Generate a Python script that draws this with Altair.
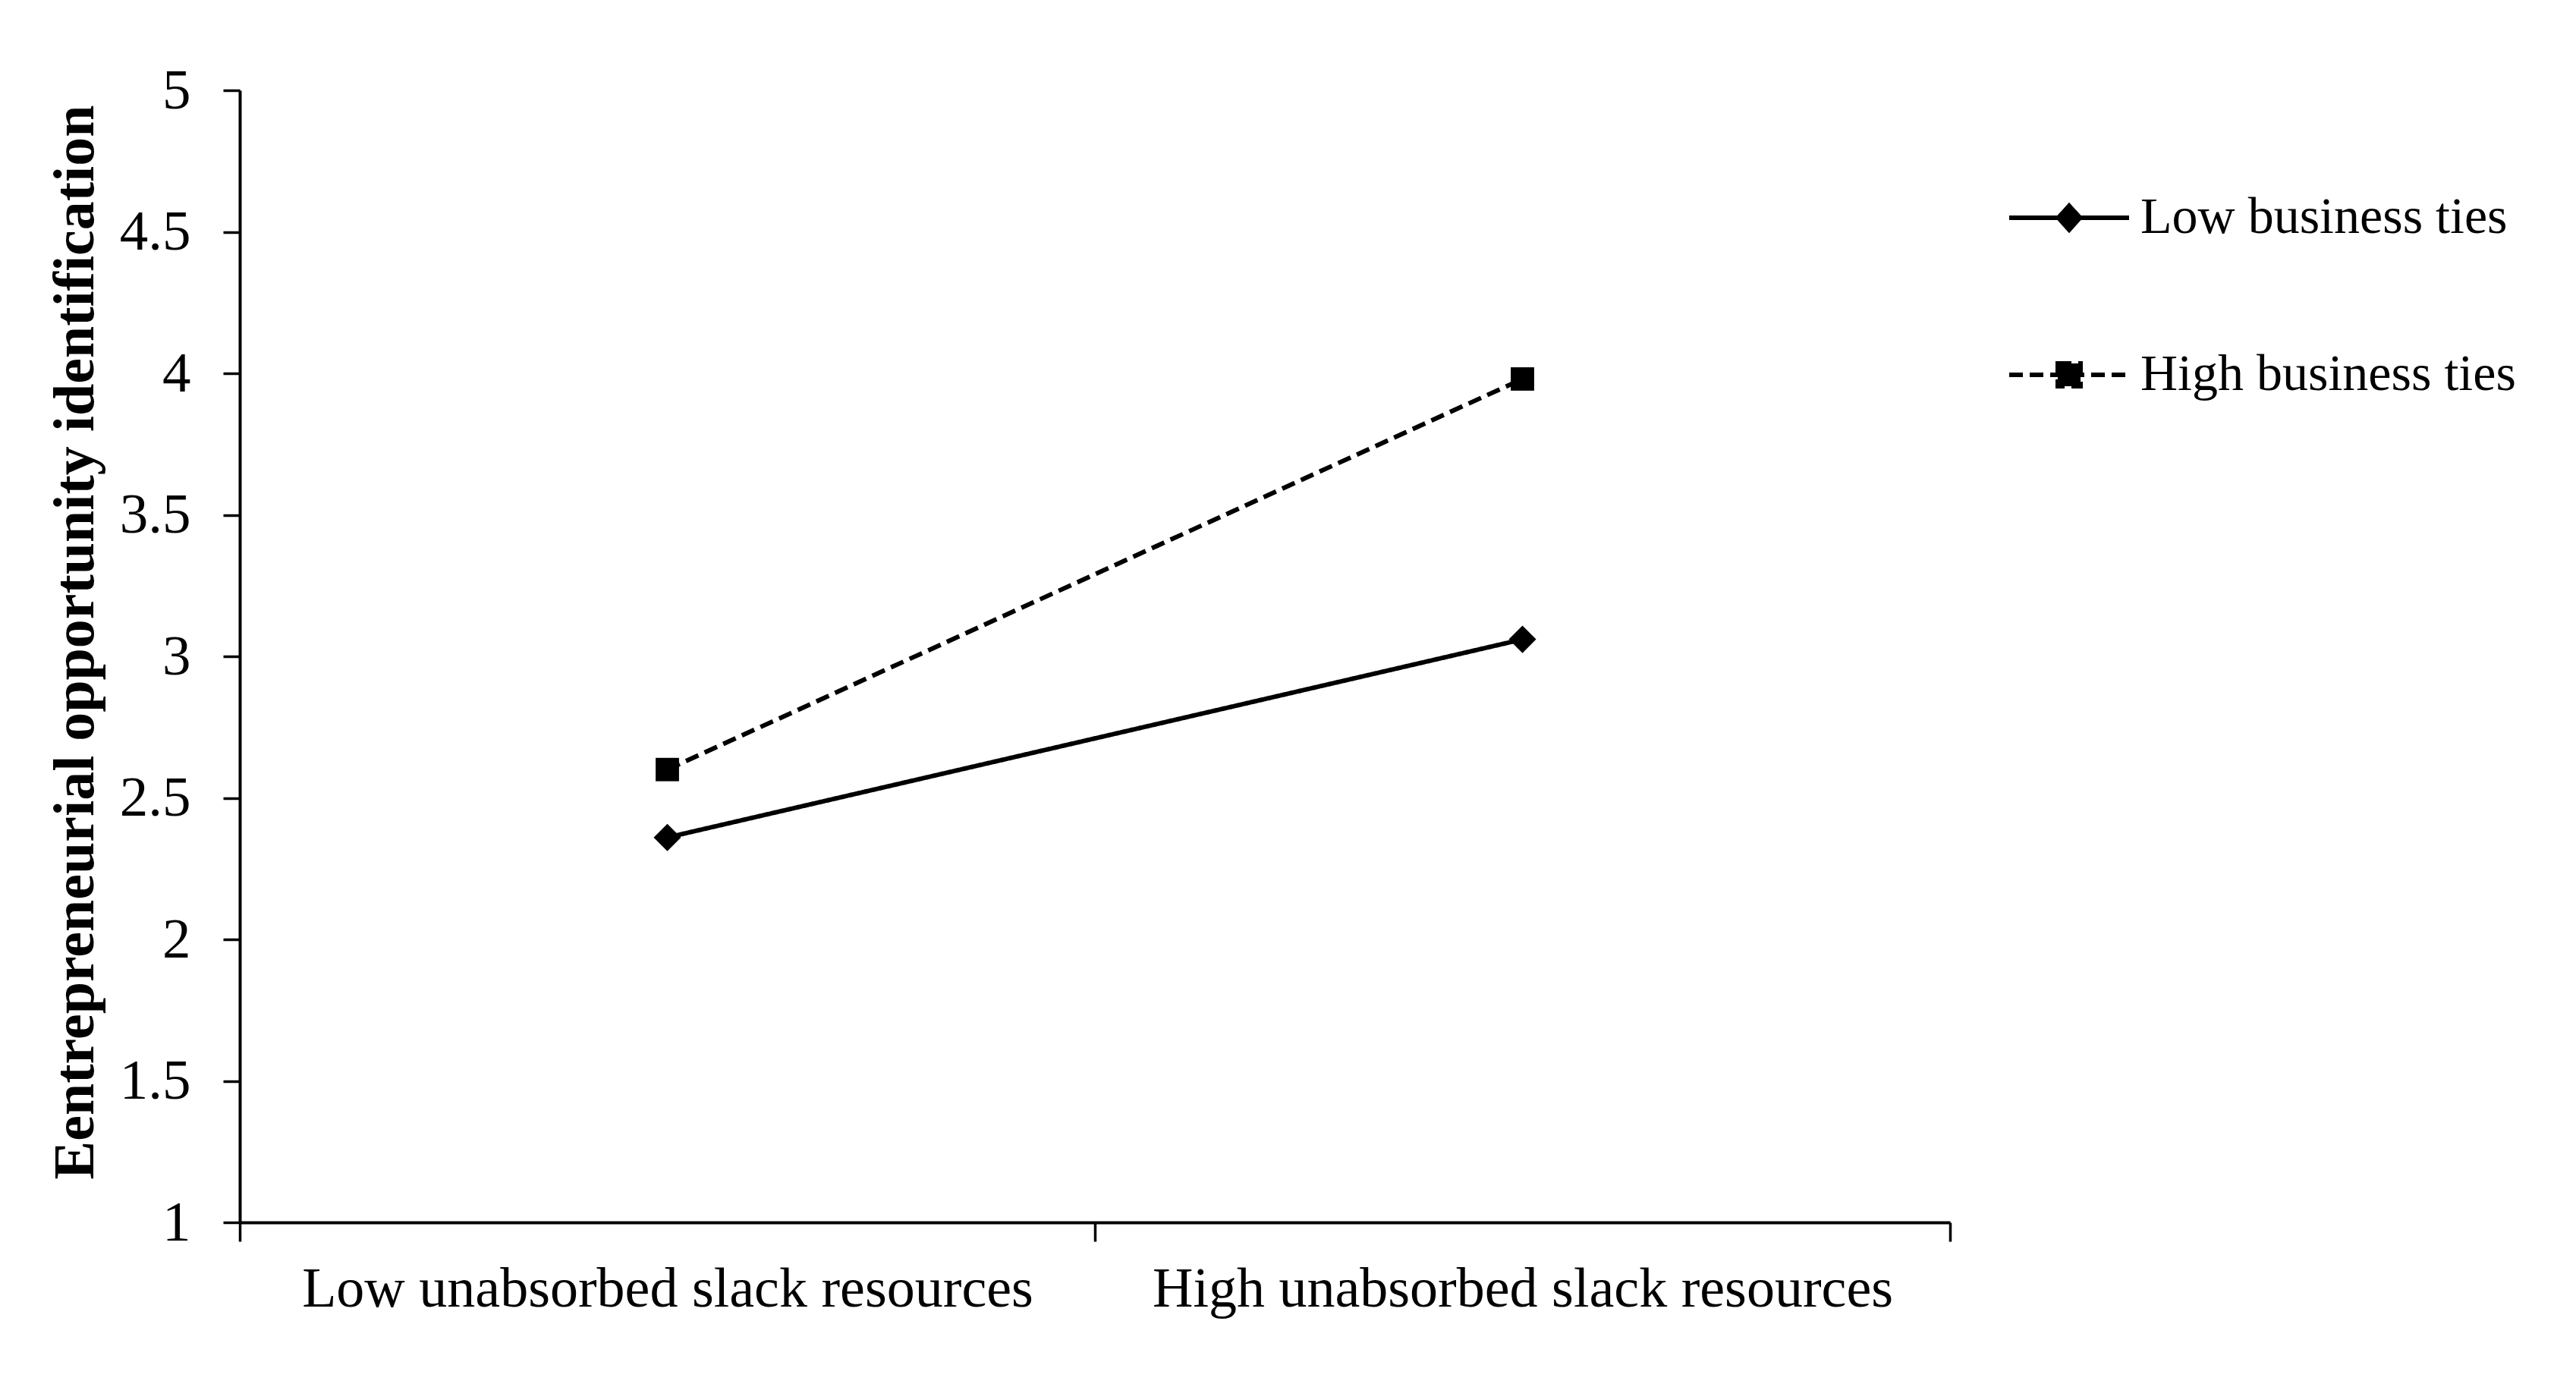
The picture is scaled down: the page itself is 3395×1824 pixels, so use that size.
import altair as alt
import pandas as pd

categories = ["Low unabsorbed slack resources", "High unabsorbed slack resources"]
series = ["Low business ties", "High business ties"]
low_ties = [2.36, 3.06]
high_ties = [2.60, 3.98]
y_ticks = [1, 1.5, 2, 2.5, 3, 3.5, 4, 4.5, 5]

rows = []
for s, vals in zip(series, [low_ties, high_ties]):
    for c, v in zip(categories, vals):
        rows.append({"slack": c, "ties": s, "value": v})
df = pd.DataFrame(rows)

FONT = "Liberation Serif"
dash_range = [[1, 0], [18, 9]]
legend_paths = [
    "M-1,0L1,0M0,-0.2L0.18,0L0,0.2L-0.18,0Z",
    "M-1,0L1,0M-0.19,-0.19L0.19,-0.19L0.19,0.19L-0.19,0.19Z",
]

x_enc = alt.X(
    "slack:N",
    sort=categories,
    scale=alt.Scale(domain=categories, paddingInner=0, paddingOuter=0),
    axis=alt.Axis(
        title=None, labelAngle=0, tickBand="extent", tickSize=25, labelPadding=27,
        labelFontSize=74, labelFont=FONT, labelColor="black", labelLimit=0,
        domainColor="black", domainWidth=4, tickColor="black", tickWidth=3.5, grid=False,
    ),
)
y_enc = alt.Y(
    "value:Q",
    scale=alt.Scale(domain=[1, 5], nice=False, zero=False),
    axis=alt.Axis(
        values=y_ticks, format="~g", grid=False,
        title="Eentrepreneurial opportunity identification",
        titleFont=FONT, titleFontSize=76, titleFontWeight="bold", titleColor="black",
        titleX=-194, titleY=727, titleAngle=270, titleBaseline="alphabetic", titleAlign="center",
        tickSize=22, labelPadding=43, labelFontSize=75, labelFont=FONT, labelColor="black",
        domainColor="black", domainWidth=4, tickColor="black", tickWidth=3.5,
    ),
)

base = alt.Chart(df)

lines = base.mark_line(color="black", strokeWidth=6).encode(
    x=x_enc, y=y_enc,
    strokeDash=alt.StrokeDash("ties:N", scale=alt.Scale(domain=series, range=dash_range), legend=None),
)

points = base.mark_point(filled=True, color="black", opacity=1).encode(
    x=x_enc, y=y_enc,
    shape=alt.Shape("ties:N", scale=alt.Scale(domain=series, range=["diamond", "square"]), legend=None),
    size=alt.Size("ties:N", scale=alt.Scale(domain=series, range=[1300, 950]), legend=None),
)

legend_props = dict(
    title=None, orient="none", legendX=2329, legendY=86, padding=0,
    symbolSize=24964, symbolStrokeWidth=6,
    symbolOpacity=1, labelOffset=12, labelFontSize=68, labelFont=FONT, labelColor="black",
    labelLimit=0, rowPadding=91,
)

legend_layer = base.mark_point(
    filled=False, color="black", fill="black", stroke="black", strokeWidth=6, opacity=1
).encode(
    x=x_enc, y=y_enc,
    shape=alt.Shape("ties:N", scale=alt.Scale(domain=series, range=legend_paths), legend=alt.Legend(**legend_props)),
    strokeDash=alt.StrokeDash("ties:N", scale=alt.Scale(domain=series, range=dash_range), legend=alt.Legend(**legend_props)),
).transform_filter("false")

chart = alt.layer(lines, points, legend_layer).resolve_scale(
    shape="independent", strokeDash="independent", size="independent"
).properties(
    width=2254, height=1492,
    autosize=alt.AutoSizeParams(type="none"),
    padding={"left": 308, "top": 111, "right": 800, "bottom": 190},
    background="white",
).configure_view(stroke=None)

chart.save("out.html", embed_options={"renderer": "svg", "actions": False})
